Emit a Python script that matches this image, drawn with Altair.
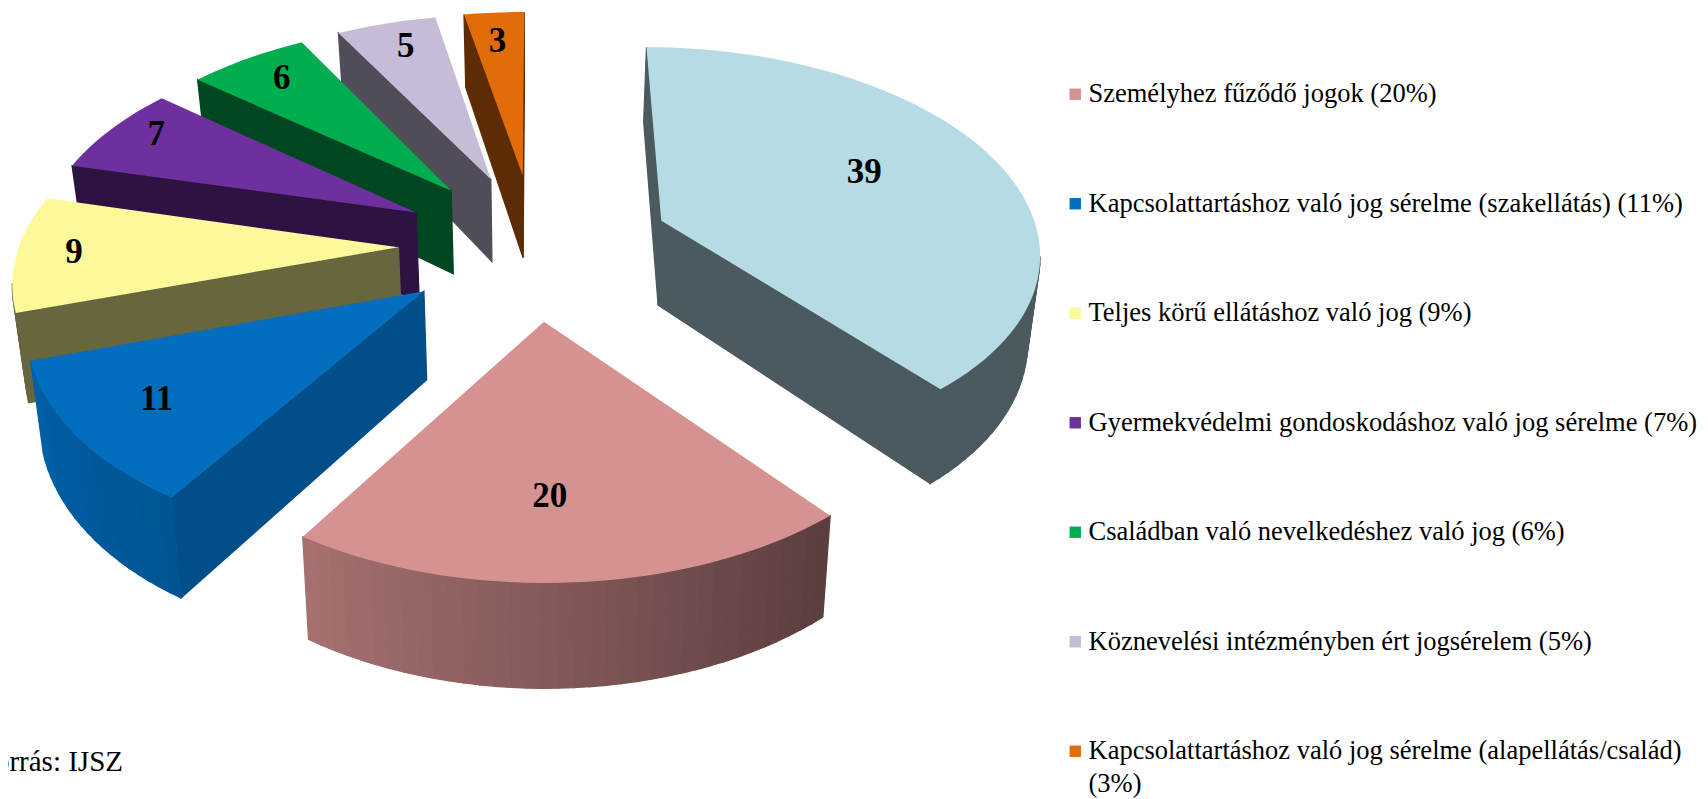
import math
import altair as alt

# --- chart values, in the order of the pie (clockwise from the top)
values = [39, 20, 11, 9, 7, 6, 5, 3]
names = [
    "Egyéb (39%)",
    "Személyhez fűződő jogok (20%)",
    "Kapcsolattartáshoz való jog sérelme (szakellátás) (11%)",
    "Teljes körű ellátáshoz való jog (9%)",
    "Gyermekvédelmi gondoskodáshoz való jog sérelme (7%)",
    "Családban való nevelkedéshez való jog (6%)",
    "Köznevelési intézményben ért jogsérelem (5%)",
    "Kapcsolattartáshoz való jog sérelme (alapellátás/család)\n(3%)",
]
colors = ["#B6DBE5", "#D69191", "#016EBF", "#FBF99A", "#6E2F9F", "#00AE50", "#C6BCD7", "#E26C09"]
source_text = ["Forrás: IJSZ"]

# --- view of the tilted, exploded pie
W, H = 1692, 790
CX, CY = 527, 237
AX, BY = 379, 203
PERSP, EXPLODE, DEPTH, SHRINK = 0.135, 0.36, 86, 0.975
STEP = 2.0
SERIF = "Liberation Serif"
# wall shading: (rim at start angle, rim at end angle, radial faces)
SHADES = {1: (0.42, 0.78, 0.41), 2: (0.77, 0.88, 0.71)}
DEFAULT_SHADE = (0.41, 0.41, 0.41)
# label placement tweaks in pixels, per slice
LABEL_NUDGE = {0: (-1, -9), 1: (-16, -11), 2: (7, -6), 3: (-13, -1), 4: (-4, -9), 5: (4, 0), 6: (5, 1), 7: (0, 8)}


def project_top(u, v):
    f = 1 / (1 + PERSP * v)
    return CX + AX * u * f, CY - BY * v * f, f


def project_bottom(u, v):
    x, y, f = project_top(u, v)
    return CX + (x - CX) * SHRINK, y + DEPTH * f


def disc(mid, t):
    m, a = math.radians(mid), math.radians(t)
    return EXPLODE * math.sin(m) + math.sin(a), EXPLODE * math.cos(m) + math.cos(a)


def shade(hex_color, k):
    return "#%02x%02x%02x" % tuple(round(int(hex_color[i:i + 2], 16) * k) for i in (1, 3, 5))


def feature(ring, **props):
    pts = [[round(x, 2), round(y, 2)] for x, y in ring]
    return {"type": "Feature", "geometry": {"type": "Polygon", "coordinates": [pts + [pts[0]]]},
            "properties": {}, **props}


def wedge(start, end, mid, color, shades):
    apex = (EXPLODE * math.sin(math.radians(mid)), EXPLODE * math.cos(math.radians(mid)))
    n = max(2, int(round((end - start) / STEP)))
    angles = [start + (end - start) * i / n for i in range(n + 1)]
    plane = [apex] + [disc(mid, t) for t in angles]
    top = [project_top(*p)[:2] for p in plane]
    bottom = [project_bottom(*p) for p in plane]
    walls = []
    count = len(plane)
    for i in range(count):
        j = (i + 1) % count
        if top[j][0] >= top[i][0]:  # faces turned away from the viewer
            continue
        if i == 0 or j == 0:
            k = shades[2]
        else:
            k = shades[0] + (shades[1] - shades[0]) * (i - 0.5) / n
        fill = shade(color, k)
        walls.append(feature([top[i], top[j], bottom[j], bottom[i]], fill=fill))
    return top, walls


proj = dict(type="identity", scale=1, translate=[0, 0])
legend = alt.Legend(
    title=None, orient="none", legendX=1054, legendY=73, values=names[1:],
    symbolType="square", symbolSize=130, symbolStrokeWidth=0, symbolOpacity=1,
    labelFont=SERIF, labelFontSize=26.5, labelColor="#000000", labelLimit=700,
    labelOffset=0, rowPadding=82.5, labelExpr="split(datum.label, '\\n')",
)
color = alt.Color("name:N", scale=alt.Scale(domain=names, range=colors), legend=legend)

layers, labels = [], []
cum = 0
spans = []
for val in values:
    spans.append((cum * 3.6, (cum + val) * 3.6))
    cum += val

for idx in [7, 6, 5, 4, 3, 2, 1, 0]:
    start, end = spans[idx]
    mid = (start + end) / 2
    top, walls = wedge(start, end, mid, colors[idx], SHADES.get(idx, DEFAULT_SHADE))
    layers.append(
        alt.Chart(alt.Data(values=walls)).mark_geoshape(strokeWidth=1.3).encode(
            fill=alt.Fill("fill:N", scale=None), stroke=alt.Stroke("fill:N", scale=None)
        ).project(**proj)
    )
    layers.append(
        alt.Chart(alt.Data(values=[feature(top, name=names[idx])])).mark_geoshape(strokeWidth=0).encode(
            color=color
        ).project(**proj)
    )
    r = 0.88 - 0.007 * values[idx]
    m = math.radians(mid)
    lx, ly, _ = project_top((EXPLODE + r) * math.sin(m), (EXPLODE + r) * math.cos(m))
    nx, ny = LABEL_NUDGE[idx]
    labels.append({"value": str(values[idx]), "lon": round(lx + nx, 1), "lat": round(ly + ny, 1)})

value_text = alt.Chart(alt.Data(values=labels)).mark_text(
    font=SERIF, fontSize=35, fontWeight="bold", color="#000000", align="center", baseline="middle"
).encode(longitude="lon:Q", latitude="lat:Q", text="value:N").project(**proj)

src = alt.Chart(alt.Data(values=[{"t": source_text[0], "lon": 115, "lat": 763}])).mark_text(
    font=SERIF, fontSize=29, color="#000000", align="right", baseline="alphabetic"
).encode(longitude="lon:Q", latitude="lat:Q", text="t:N").project(**proj)

chart = alt.layer(*layers, value_text, src).properties(
    width=W, height=H, padding=0, autosize=alt.AutoSizeParams(type="none")
).configure_view(stroke=None).configure(style={"guide-label": {"lineHeight": 33}})

chart.save("out.html", embed_options={"renderer": "svg", "actions": False})
